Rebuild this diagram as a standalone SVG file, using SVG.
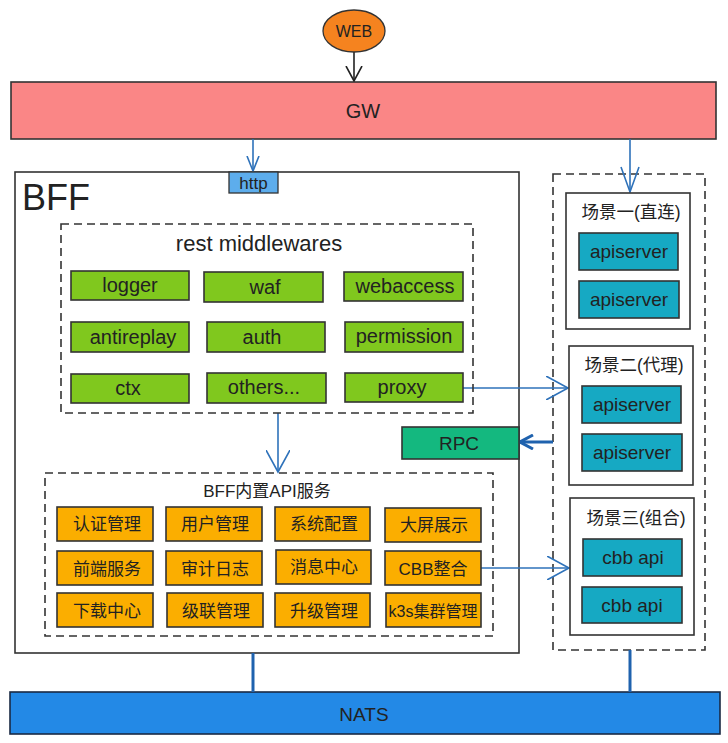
<svg xmlns="http://www.w3.org/2000/svg" width="728" height="743" viewBox="0 0 728 743">
<defs>
<style>
.t{font-family:"Liberation Sans","Noto Sans CJK SC",Arial,sans-serif;fill:#222;text-anchor:middle;dominant-baseline:central}
.box{stroke:#333;stroke-width:1.6}
.g{fill:#80C81E}
.o{fill:#FBAE00}
.c{fill:#16A9C3}
.dash{fill:none;stroke:#333;stroke-width:1.6;stroke-dasharray:8 5}
.link{fill:none;stroke:#2E72BA;stroke-width:1.6}
.thick{fill:none;stroke:#1F62AE;stroke-width:3}
</style>
<marker id="vb" markerWidth="24" markerHeight="24" refX="22" refY="12" orient="auto" markerUnits="userSpaceOnUse">
<path d="M0,0 L22,12 L0,24" fill="none" stroke="#2E72BA" stroke-width="1.6"/>
</marker>
<marker id="vs" markerWidth="16" markerHeight="14" refX="15" refY="7" orient="auto" markerUnits="userSpaceOnUse">
<path d="M0,1 L15,7 L0,13" fill="none" stroke="#2E72BA" stroke-width="1.6"/>
</marker>
<marker id="vk" markerWidth="16" markerHeight="18" refX="15" refY="9" orient="auto" markerUnits="userSpaceOnUse">
<path d="M0,1 L15,9 L0,17" fill="none" stroke="#222" stroke-width="1.6"/>
</marker>
<marker id="vt" markerWidth="16" markerHeight="16" refX="14" refY="8" orient="auto" markerUnits="userSpaceOnUse">
<path d="M1,1 L14,8 L1,15" fill="none" stroke="#1F62AE" stroke-width="3"/>
</marker>
</defs>

<g id="gw">
<rect class="box" x="11" y="82" width="705" height="57" fill="#FA8686"/>
<text class="t" x="363" y="111" font-size="20">GW</text>
</g>

<g id="bff">
<rect class="box" x="15" y="172" width="504" height="481" fill="#fff"/>
<text x="22" y="210" font-size="36" style="font-family:'Liberation Sans',Arial,sans-serif;fill:#222">BFF</text>
</g>

<g id="scenes">
<rect class="dash" x="553" y="174" width="152" height="476"/>
</g>

<g id="nats">
<rect x="10" y="692" width="710" height="42" fill="#2389E6" stroke="#1a2a44" stroke-width="1.6"/>
<text class="t" x="364" y="714" font-size="19">NATS</text>
</g>

<g id="connectors">
<line x1="354" y1="52" x2="354" y2="81" stroke="#222" stroke-width="1.6" marker-end="url(#vk)"/>
<line class="link" x1="253" y1="139" x2="253" y2="171" marker-end="url(#vs)"/>
<line class="link" x1="630" y1="139" x2="630" y2="192"/>
<path d="M621,167 L630,192 L639,167" fill="none" stroke="#2E72BA" stroke-width="1.6"/>
<line class="link" x1="278" y1="413" x2="278" y2="472" marker-end="url(#vb)"/>
<line class="link" x1="463" y1="388" x2="568" y2="388" marker-end="url(#vb)"/>
<line class="link" x1="481" y1="568" x2="569" y2="568" marker-end="url(#vb)"/>
<line class="thick" x1="553" y1="442" x2="520" y2="442" marker-end="url(#vt)"/>
<line class="thick" x1="253" y1="653" x2="253" y2="692"/>
<line class="thick" x1="630" y1="650" x2="630" y2="692"/>
</g>

<g id="http">
<rect x="229" y="172" width="49" height="21" fill="#5DADEC" stroke="#333" stroke-width="1.3"/>
<text class="t" x="253.5" y="183" font-size="17">http</text>
</g>

<g id="web">
<ellipse cx="354" cy="31" rx="31" ry="21" fill="#F5831F" stroke="#333" stroke-width="1.3"/>
<text class="t" x="354" y="31" font-size="16">WEB</text>
</g>

<g id="middlewares">
<rect class="dash" x="61" y="224" width="412" height="189"/>
<text class="t" x="259" y="243" font-size="22">rest middlewares</text>
</g>
<g id="logger"><rect class="box g" x="71" y="271" width="118" height="29"/><text class="t" x="130" y="285" font-size="20">logger</text></g>
<g id="waf"><rect class="box g" x="204" y="272" width="119" height="30"/><text class="t" x="265" y="287" font-size="20">waf</text></g>
<g id="webaccess"><rect class="box g" x="344" y="272" width="119" height="29"/><text class="t" x="405" y="286" font-size="20">webaccess</text></g>
<g id="antireplay"><rect class="box g" x="71" y="322" width="118" height="30"/><text class="t" x="133" y="337" font-size="20">antireplay</text></g>
<g id="auth"><rect class="box g" x="207" y="322" width="118" height="30"/><text class="t" x="262" y="337" font-size="20">auth</text></g>
<g id="permission"><rect class="box g" x="345" y="322" width="118" height="30"/><text class="t" x="404" y="336" font-size="20">permission</text></g>
<g id="ctx"><rect class="box g" x="71" y="374" width="118" height="29"/><text class="t" x="128" y="388" font-size="20">ctx</text></g>
<g id="others"><rect class="box g" x="207" y="373" width="119" height="30"/><text class="t" x="264" y="387" font-size="20">others...</text></g>
<g id="proxy"><rect class="box g" x="345" y="373" width="118" height="29"/><text class="t" x="402" y="387" font-size="20">proxy</text></g>

<g id="api">
<rect class="dash" x="45" y="473" width="448" height="163"/>
<text class="t" x="267" y="491" font-size="17">BFF内置API服务</text>
</g>
<g id="o1"><rect class="box o" x="57" y="507" width="96" height="34"/><text class="t" x="107" y="524" font-size="17">认证管理</text></g>
<g id="o2"><rect class="box o" x="166" y="507" width="96" height="34"/><text class="t" x="215" y="524" font-size="17">用户管理</text></g>
<g id="o3"><rect class="box o" x="275" y="507" width="95" height="34"/><text class="t" x="324" y="524" font-size="17">系统配置</text></g>
<g id="o4"><rect class="box o" x="385" y="508" width="96" height="34"/><text class="t" x="434" y="525" font-size="17">大屏展示</text></g>
<g id="o5"><rect class="box o" x="57" y="551" width="96" height="34"/><text class="t" x="107" y="569" font-size="17">前端服务</text></g>
<g id="o6"><rect class="box o" x="166" y="551" width="96" height="34"/><text class="t" x="215" y="569" font-size="17">审计日志</text></g>
<g id="o7"><rect class="box o" x="276" y="550" width="95" height="34"/><text class="t" x="324" y="567" font-size="17">消息中心</text></g>
<g id="o8"><rect class="box o" x="385" y="551" width="96" height="34"/><text class="t" x="433" y="569" font-size="17">CBB整合</text></g>
<g id="o9"><rect class="box o" x="57" y="593" width="96" height="34"/><text class="t" x="107" y="611" font-size="17">下载中心</text></g>
<g id="o10"><rect class="box o" x="167" y="593" width="96" height="34"/><text class="t" x="216" y="611" font-size="17">级联管理</text></g>
<g id="o11"><rect class="box o" x="275" y="593" width="95" height="34"/><text class="t" x="324" y="611" font-size="17">升级管理</text></g>
<g id="o12"><rect class="box o" x="386" y="593" width="95" height="34"/><text class="t" x="433" y="611" font-size="16">k3s集群管理</text></g>

<g id="rpc">
<rect class="box" x="402" y="427" width="117" height="32" fill="#14B87F"/>
<text class="t" x="459" y="443" font-size="19">RPC</text>
</g>

<g id="scene1">
<rect class="box" x="566" y="193" width="124" height="136" fill="#fff"/>
<text class="t" x="631" y="212" font-size="17.5">场景一(直连)</text>
<rect class="box c" x="579" y="233" width="99" height="37"/>
<text class="t" x="629" y="251" font-size="19">apiserver</text>
<rect class="box c" x="579" y="281" width="100" height="37"/>
<text class="t" x="629" y="299" font-size="19">apiserver</text>
</g>

<g id="scene2">
<rect class="box" x="569" y="346" width="124" height="139" fill="#fff"/>
<text class="t" x="634" y="365" font-size="17.5">场景二(代理)</text>
<rect class="box c" x="582" y="386" width="99" height="37"/>
<text class="t" x="632" y="404" font-size="19">apiserver</text>
<rect class="box c" x="582" y="434" width="100" height="37"/>
<text class="t" x="632" y="452" font-size="19">apiserver</text>
</g>

<g id="scene3">
<rect class="box" x="570" y="498" width="124" height="137" fill="#fff"/>
<text class="t" x="636" y="518" font-size="17.5">场景三(组合)</text>
<rect class="box c" x="583" y="539" width="99" height="37"/>
<text class="t" x="633" y="557" font-size="19">cbb api</text>
<rect class="box c" x="582" y="587" width="100" height="36"/>
<text class="t" x="632" y="605" font-size="19">cbb api</text>
</g>
</svg>
